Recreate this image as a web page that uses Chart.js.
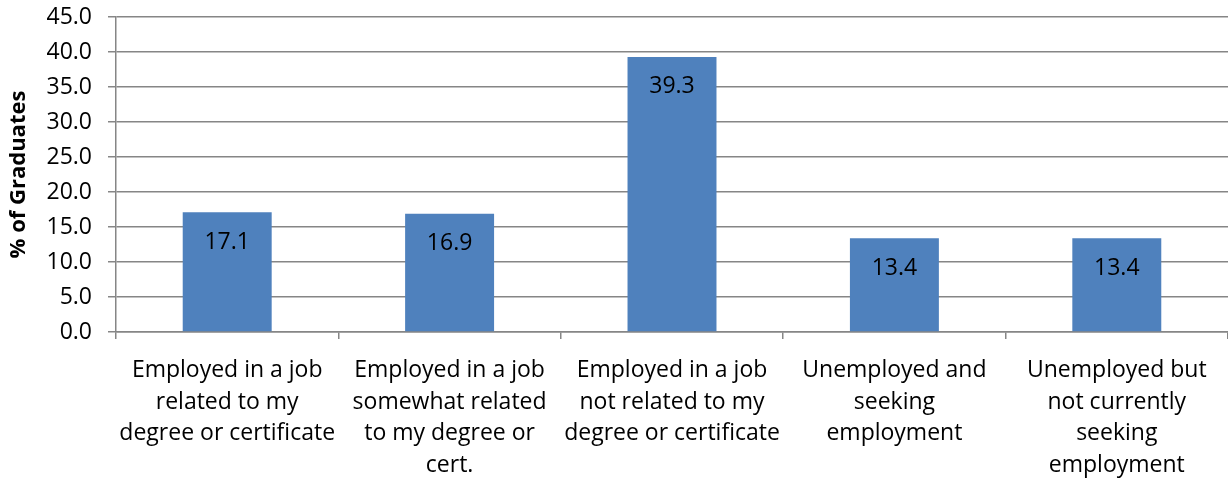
<!DOCTYPE html>
<html>
<head>
<meta charset="utf-8">
<script src="https://cdn.jsdelivr.net/npm/chart.js@4"></script>
<style>
  html, body { margin: 0; padding: 0; background: #ffffff; }
  #wrap { width: 1228px; height: 478px; position: relative; }
</style>
</head>
<body>
<div id="wrap"><canvas id="barChart"></canvas></div>
<script>
const categories = [
  ['Employed in a job', 'related to my', 'degree or certificate'],
  ['Employed in a job', 'somewhat related', 'to my degree or', 'cert.'],
  ['Employed in a job', 'not related to my', 'degree or certificate'],
  ['Unemployed and', 'seeking', 'employment'],
  ['Unemployed but', 'not currently', 'seeking', 'employment']
];
const graduatePct = [17.1, 16.9, 39.3, 13.4, 13.4];
const yMin = 0;
const yMax = 45;
const yStep = 5;

const FONT = "'Open Sans', sans-serif";
const GRID = '#868686';

// value labels drawn just inside the top of each bar
const barValueLabels = {
  id: 'barValueLabels',
  afterDatasetsDraw(chart) {
    const ctx = chart.ctx;
    const meta = chart.getDatasetMeta(0);
    ctx.save();
    ctx.font = '23px ' + FONT;
    ctx.fillStyle = '#000000';
    ctx.textAlign = 'center';
    ctx.textBaseline = 'middle';
    meta.data.forEach((bar, i) => {
      ctx.fillText(graduatePct[i].toFixed(1), bar.x, bar.y + 30);
    });
    ctx.restore();
  }
};

const ctx = document.getElementById('barChart').getContext('2d');
const chart = new Chart(ctx, {
  type: 'bar',
  data: {
    labels: categories,
    datasets: [{
      data: graduatePct,
      backgroundColor: '#4f81bd',
      borderWidth: 0,
      categoryPercentage: 0.4,
      barPercentage: 1.0
    }]
  },
  options: {
    responsive: true,
    maintainAspectRatio: false,
    animation: false,
    layout: { padding: 0 },
    plugins: {
      legend: { display: false },
      tooltip: { enabled: false }
    },
    scales: {
      x: {
        offset: true,
        afterFit: s => { s.height = 146; },
        grid: {
          offset: true,
          drawOnChartArea: false,
          drawTicks: true,
          tickLength: 7,
          color: GRID,
          lineWidth: 1.5
        },
        border: { color: GRID, width: 1.5 },
        ticks: {
          color: '#000000',
          font: { family: FONT, size: 23, lineHeight: 1.39 },
          maxRotation: 0,
          autoSkip: false,
          padding: 15
        }
      },
      y: {
        min: yMin,
        max: yMax,
        afterFit: s => { s.width = 116; s.paddingTop = 17; },
        grid: {
          color: GRID,
          lineWidth: 1.5,
          drawTicks: true,
          tickLength: 8
        },
        border: { color: GRID, width: 1.5 },
        ticks: {
          stepSize: yStep,
          color: '#000000',
          font: { family: FONT, size: 23 },
          padding: 16,
          callback: v => Number(v).toFixed(1)
        },
        title: {
          display: true,
          text: '% of Graduates',
          color: '#000000',
          font: { family: FONT, size: 22, weight: 'bold' },
          padding: { top: 6, bottom: 2 }
        }
      }
    }
  },
  plugins: [barValueLabels]
});
</script>
</body>
</html>
